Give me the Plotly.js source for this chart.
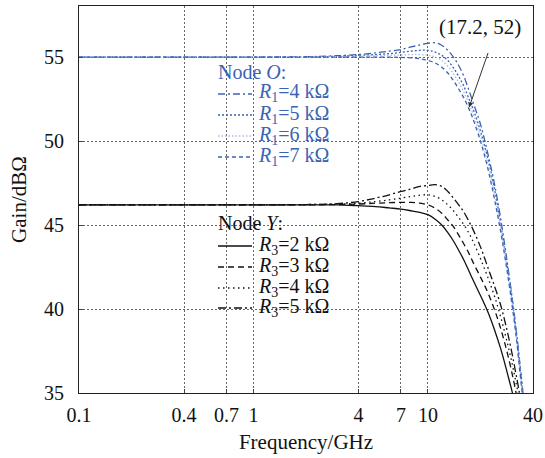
<!DOCTYPE html>
<html>
<head>
<meta charset="utf-8">
<script src="https://cdn.plot.ly/plotly-3.0.1.min.js"></script>
<style>html,body{margin:0;padding:0;background:#fff;}#chart{width:545px;height:458px;}</style>
</head>
<body>
<div id="chart"></div>
<script>
// Frequency points (GHz)
const freq = [0.1,0.2,0.4,0.7,1,2,3,4,5,6,7,8,9,10,11,12,13,14,15,16,17.2,18,20,22,24,26,28,30,32,34,36,38];

// Node O (blue)
const nodeO_R1_4k = [55,55,55,55,55,55.02,55.08,55.15,55.25,55.35,55.45,55.6,55.72,55.82,55.85,55.7,55.4,55.0,54.5,53.9,53.0,52.4,51.0,49.3,47.5,45.5,43.3,41.1,38.8,36.3,33.8,31.3];
const nodeO_R1_5k = [55,55,55,55,55,55,55.05,55.1,55.15,55.2,55.28,55.35,55.4,55.4,55.3,55.1,54.8,54.35,53.85,53.3,52.5,52.0,50.6,49.0,47.2,45.2,43.1,41.0,38.7,36.2,33.7,31.2];
const nodeO_R1_6k = [55,55,55,55,55,55,55.02,55.05,55.08,55.1,55.12,55.15,55.15,55.1,55.0,54.8,54.45,54.0,53.5,52.95,52.2,51.7,50.3,48.7,46.9,45.0,42.9,40.8,38.5,36.1,33.6,31.1];
const nodeO_R1_7k = [55,55,55,55,55,55,55,55,55,55,54.98,54.95,54.9,54.8,54.65,54.4,54.05,53.6,53.1,52.6,51.9,51.4,50.0,48.4,46.6,44.7,42.7,40.6,38.4,35.8,33.5,31.0];

// Node Y (black)
const nodeY_R3_2k = [46.2,46.2,46.2,46.2,46.2,46.2,46.2,46.15,46.1,46.02,45.95,45.85,45.75,45.62,45.35,45.0,44.55,44.05,43.5,42.95,42.25,41.8,40.8,39.85,38.8,37.7,36.5,35.3,34.1,32.9,31.7,30.5];
const nodeY_R3_3k = [46.2,46.2,46.2,46.2,46.2,46.2,46.22,46.25,46.3,46.33,46.35,46.35,46.3,46.2,46.0,45.7,45.3,44.9,44.4,43.9,43.3,42.85,41.9,41.0,40.0,38.9,37.7,36.4,35.0,33.5,32.0,30.5];
const nodeY_R3_4k = [46.2,46.2,46.2,46.2,46.2,46.22,46.25,46.3,46.4,46.5,46.6,46.7,46.78,46.8,46.7,46.5,46.2,45.85,45.45,45.05,44.5,44.1,43.0,41.9,40.8,39.6,38.3,37.0,35.6,34.2,32.8,31.4];
const nodeY_R3_5k = [46.2,46.2,46.2,46.2,46.2,46.22,46.27,46.4,46.6,46.8,47.0,47.15,47.3,47.35,47.4,47.3,47.0,46.6,46.2,45.8,45.2,44.8,43.7,42.5,41.4,40.3,39.0,37.6,36.1,34.6,33.1,31.6];

// Tick labels
const xTicks = [0.1,0.4,0.7,1,4,7,10,40];
const xTickText = ['0.1','0.4','0.7','1','4','7','10','40'];
const yTicks = [35,40,45,50,55];

// Legend texts
const legendTitleO = 'Node <i>O</i>:';
const legendLabelsO = ['<i>R</i><sub>1</sub>=4 kΩ','<i>R</i><sub>1</sub>=5 kΩ','<i>R</i><sub>1</sub>=6 kΩ','<i>R</i><sub>1</sub>=7 kΩ'];
const legendTitleY = 'Node <i>Y</i>:';
const legendLabelsY = ['<i>R</i><sub>3</sub>=2 kΩ','<i>R</i><sub>3</sub>=3 kΩ','<i>R</i><sub>3</sub>=4 kΩ','<i>R</i><sub>3</sub>=5 kΩ'];

// Marked point
const markF = 17.2, markG = 52;
const markLabel = '(17.2, 52)';

const BLUE = '#3a63b4';
const FONT = 'Liberation Serif, Times New Roman, serif';
const FS = 20;
const FSL = 20;

const blueStyles = [
  {dash: '7px,3px,2px,3px', color: BLUE},
  {dash: '2px,2px', color: BLUE},
  {dash: '1.5px,2px', color: '#a9bde3'},
  {dash: '4px,3px', color: BLUE}
];
const blackStyles = [
  {dash: 'solid'},
  {dash: '6px,4px'},
  {dash: '1.5px,3.5px'},
  {dash: '8px,3px,2px,3px'}
];
const blueData = [nodeO_R1_4k, nodeO_R1_5k, nodeO_R1_6k, nodeO_R1_7k];
const blackData = [nodeY_R3_2k, nodeY_R3_3k, nodeY_R3_4k, nodeY_R3_5k];

const traces = [];
blueData.forEach((y, i) => traces.push({
  x: freq, y: y, name: legendLabelsO[i], type: 'scatter', mode: 'lines',
  line: {color: blueStyles[i].color, dash: blueStyles[i].dash, width: 1.3, shape: 'spline'},
  showlegend: false
}));
blackData.forEach((y, i) => traces.push({
  x: freq, y: y, name: legendLabelsY[i], type: 'scatter', mode: 'lines',
  line: {color: '#111', dash: blackStyles[i].dash, width: 1.3, shape: 'spline'},
  showlegend: false
}));

// plot-area geometry (px) for placing the hand-made legends
const PL = 79, PR = 533, PT = 6, PB = 393;
const px2x = p => (p - PL) / (PR - PL);
const px2y = p => (PB - p) / (PB - PT);

const shapes = [];
const annotations = [];
function addLegend(title, labels, styles, color, titleY, rowYs, boxTop, boxBot) {
  shapes.push({type: 'rect', xref: 'paper', yref: 'paper', layer: 'between',
    x0: px2x(213), x1: px2x(348), y0: px2y(boxBot), y1: px2y(boxTop),
    fillcolor: '#fff', line: {width: 0}});
  annotations.push({xref: 'paper', yref: 'paper', x: px2x(216), y: px2y(titleY),
    xanchor: 'left', yanchor: 'middle', showarrow: false, text: title,
    font: {family: FONT, size: FSL, color: color}});
  labels.forEach((lab, i) => {
    shapes.push({type: 'line', xref: 'paper', yref: 'paper',
      x0: px2x(218), x1: px2x(252), y0: px2y(rowYs[i]), y1: px2y(rowYs[i]),
      line: {color: styles[i].color || color, dash: styles[i].dash, width: 1.3}});
    annotations.push({xref: 'paper', yref: 'paper', x: px2x(256), y: px2y(rowYs[i] - 1),
      xanchor: 'left', yanchor: 'middle', showarrow: false, text: lab,
      font: {family: FONT, size: FSL, color: color}});
  });
}
addLegend(legendTitleO, legendLabelsO, blueStyles, BLUE, 72, [94, 115, 136, 157], 62, 170);
addLegend(legendTitleY, legendLabelsY, blackStyles, '#111', 223, [246, 267, 288, 308], 212, 320);

// annotation with arrow
annotations.push({x: Math.log10(markF), y: markG, xref: 'x', yref: 'y',
  text: ' ', showarrow: true, ax: 23, ay: -66, standoff: 0,
  arrowhead: 2, arrowsize: 1, arrowwidth: 1, arrowcolor: '#333'});
annotations.push({xref: 'paper', yref: 'paper', x: px2x(480), y: px2y(27),
  xanchor: 'center', yanchor: 'middle', showarrow: false, text: markLabel,
  font: {family: FONT, size: 21, color: '#111'}});

const axisCommon = {
  showline: true, mirror: true, linecolor: '#222', linewidth: 1,
  showgrid: true, gridcolor: '#666', griddash: '2px,2px', gridwidth: 1,
  ticks: 'inside', ticklen: 4, tickcolor: '#444',
  zeroline: false,
  tickfont: {family: FONT, size: FS, color: '#111'}
};

const layout = {
  width: 545, height: 458,
  margin: {l: PL, r: 545 - PR, t: PT, b: 458 - PB},
  paper_bgcolor: '#fff', plot_bgcolor: '#fff',
  font: {family: FONT, size: FS, color: '#111'},
  showlegend: false,
  xaxis: Object.assign({}, axisCommon, {
    type: 'log', range: [Math.log10(0.1), Math.log10(40)],
    tickvals: xTicks, ticktext: xTickText, ticklabelstandoff: 4,
    title: {text: 'Frequency/GHz', font: {family: FONT, size: 21}, standoff: 9}
  }),
  yaxis: Object.assign({}, axisCommon, {
    range: [35, 58.04], tickvals: yTicks, ticklabelstandoff: 10,
    title: {text: 'Gain/dBΩ', font: {family: FONT, size: 21}, standoff: 11}
  }),
  shapes: shapes,
  annotations: annotations
};

Plotly.newPlot('chart', traces, layout, {staticPlot: true, displayModeBar: false});
</script>
</body>
</html>
